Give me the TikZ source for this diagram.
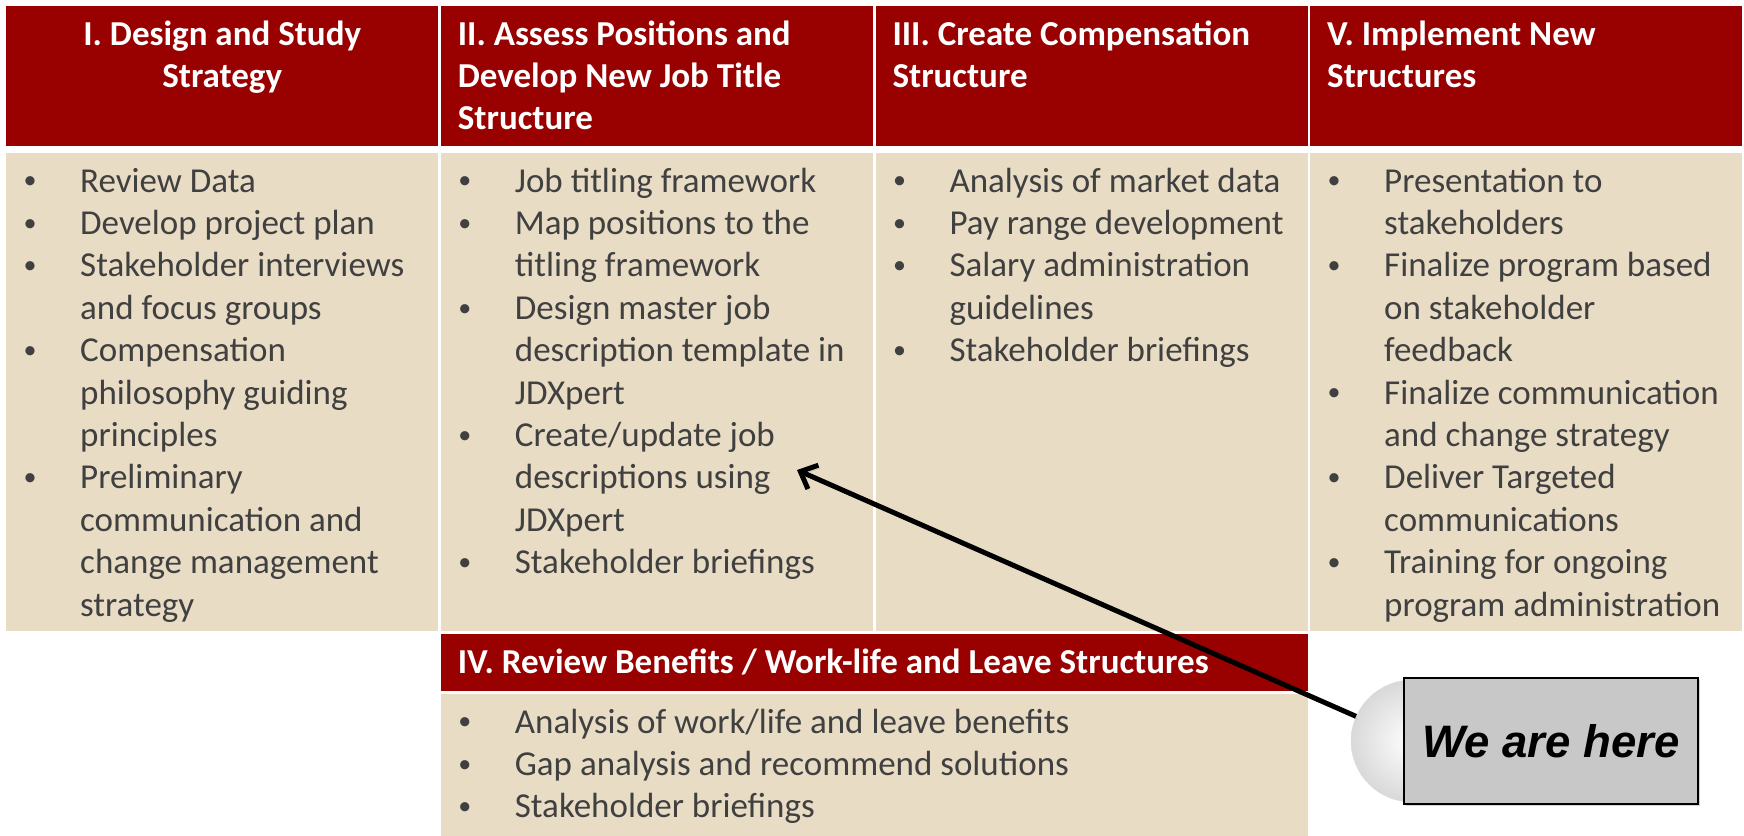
\documentclass[tikz,border=0pt]{standalone}
\usepackage{fontspec}
\setmainfont{Carlito}
\newfontfamily\tagfont{Liberation Sans}
\usetikzlibrary{positioning,arrows.meta,shadows}

\definecolor{phasered}{HTML}{990000}
\definecolor{phasetan}{HTML}{E8DCC5}
\definecolor{bodygray}{HTML}{404040}
\definecolor{buttongray}{HTML}{C8C8C8}

% bullet and hanging indent for the task lists
\newcommand{\bul}{\strut\makebox[54pt][l]{\kern-2.5pt\raisebox{3.3pt}{\fontsize{26}{26}\selectfont\textbullet}}}
\newcommand{\cont}{\hspace*{54pt}}

\tikzset{
  head/.style={fill=phasered, inner sep=0pt, anchor=north west},
  body/.style={fill=phasetan, inner sep=0pt, anchor=north west},
  headtext/.style={inner sep=0pt, align=left, text=white, font=\fontsize{35}{42.4}\selectfont\bfseries},
  bodytext/.style={inner sep=0pt, align=left, text=bodygray, font=\fontsize{35}{42.4}\selectfont},
  arrowshadow/.style={preaction={draw=black, opacity=0.15, transform canvas={shift={(2pt,-3pt)}}}},
}

\begin{document}
\begin{tikzpicture}[x=1pt, y=-1pt]
  \useasboundingbox (0,0) rectangle (1744,835);

  % Phase columns
  \foreach \i in {1,...,4} {
    \node[head, minimum width=432pt, minimum height=140pt] (h\i) at (6+434.67*\i-434.67, 6) {};
    \node[body, minimum width=432pt, minimum height=478pt] (b\i) at (6+434.67*\i-434.67, 153) {};
  }

  % Phase IV under columns II and III
  \node[head, minimum width=867pt, minimum height=57pt] (h5) at (440.67, 634) {};
  \node[body, minimum width=867pt, minimum height=145pt] (b5) at (440.67, 694) {};

  % Headings
  \node[headtext, align=center, below=9.3pt of h1.north] (t1) {\strut I. Design and Study\\Strategy};
  \node[headtext, below right=9.3pt and 17pt of h2.north west] (t2) {\strut II. Assess Positions and\\Develop New Job Title\\Structure};
  \node[headtext, below right=9.3pt and 17pt of h3.north west] (t3) {\strut III. Create Compensation\\Structure};
  \node[headtext, below right=9.3pt and 17pt of h4.north west] (t4) {\strut V. Implement New\\Structures};
  \node[headtext, below right=9.3pt and 17pt of h5.north west] (t5) {\strut IV. Review Benefits / Work-life and Leave Structures};

  % Task lists
  \node[bodytext, below right=9.3pt and 20pt of b1.north west] (l1) {%
    \bul Review Data\\
    \bul Develop project plan\\
    \bul Stakeholder interviews\\
    \cont and focus groups\\
    \bul Compensation\\
    \cont philosophy guiding\\
    \cont principles\\
    \bul Preliminary\\
    \cont communication and\\
    \cont change management\\
    \cont strategy};
  \node[bodytext, below right=9.3pt and 20pt of b2.north west] (l2) {%
    \bul Job titling framework\\
    \bul Map positions to the\\
    \cont titling framework\\
    \bul Design master job\\
    \cont description template in\\
    \cont JDXpert\\
    \bul Create/update job\\
    \cont descriptions using\\
    \cont JDXpert\\
    \bul Stakeholder briefings};
  \node[bodytext, below right=9.3pt and 20pt of b3.north west] (l3) {%
    \bul Analysis of market data\\
    \bul Pay range development\\
    \bul Salary administration\\
    \cont guidelines\\
    \bul Stakeholder briefings};
  \node[bodytext, below right=9.3pt and 20pt of b4.north west] (l4) {%
    \bul Presentation to\\
    \cont stakeholders\\
    \bul Finalize program based\\
    \cont on stakeholder\\
    \cont feedback\\
    \bul Finalize communication\\
    \cont and change strategy\\
    \bul Deliver Targeted\\
    \cont communications\\
    \bul Training for ongoing\\
    \cont program administration};
  \node[bodytext, below right=9.3pt and 20pt of b5.north west] (l5) {%
    \bul Analysis of work/life and leave benefits\\
    \bul Gap analysis and recommend solutions\\
    \bul Stakeholder briefings};

  % Pointer button
  \node[circle, minimum size=122pt, inner sep=0pt, inner color=white, outer color=gray!30, draw=gray!25] (knob) at (1412,741) {};
  \coordinate (here) at (797,470);
  \draw[arrowshadow, line width=5pt, -{Straight Barb[length=14pt, width=26pt]}] (knob) -- (here);
  \node[draw=black, line width=2pt, fill=buttongray, minimum width=294pt, minimum height=126pt, inner sep=0pt,
        drop shadow={opacity=0.35}, font=\tagfont\bfseries\itshape\fontsize{45.5}{50}\selectfont] (tag) at (1551,741) {We are here};
\end{tikzpicture}
\end{document}
